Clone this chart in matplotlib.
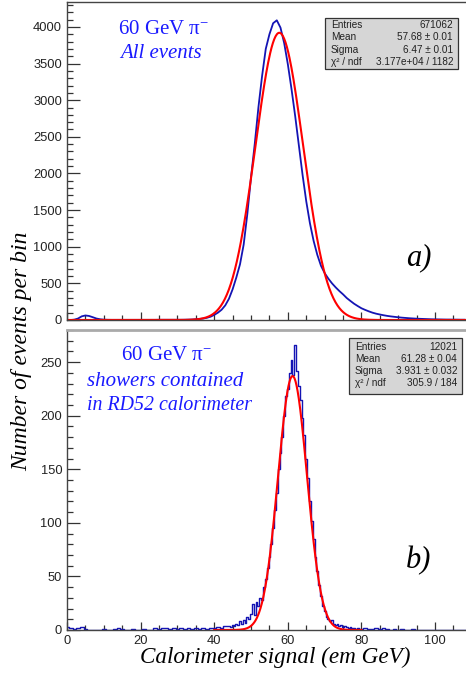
import numpy as np
import matplotlib
matplotlib.use("Agg")
import matplotlib.pyplot as plt
from matplotlib.patches import Rectangle
from matplotlib.ticker import MultipleLocator

plt.rcParams['font.family'] = ['Liberation Sans', 'DejaVu Sans']
plt.rcParams['mathtext.fontset'] = 'stix'

# ---- panel a): all events, 1 GeV sampling of the histogram ----
top_x = np.arange(0, 109)
top_counts = [
    0, 0, 5, 20, 50, 62, 55, 38, 20, 10,
    5, 3, 2, 2, 2, 2, 2, 2, 2, 2,
    2, 2, 2, 2, 2, 3, 3, 3, 3, 3,
    3, 3, 4, 5, 7, 10, 14, 20, 30, 45,
    70, 100, 140, 200, 290, 420, 580, 760, 1030, 1450,
    1950, 2400, 2900, 3330, 3700, 3900, 4050, 4090, 3990, 3780,
    3490, 3150, 2780, 2380, 1980, 1620, 1320, 1080, 890, 740,
    640, 565, 500, 445, 395, 350, 300, 260, 222, 190,
    160, 138, 118, 100, 86, 75, 65, 56, 49, 43,
    37, 32, 28, 24, 21, 18, 16, 14, 12, 10,
    9, 8, 7, 6, 6, 5, 5, 4, 4,
]
top_fit = dict(amp=3920, mean=57.68, sigma=6.47, lo=0.0, hi=108.4)
top_stats = [("Entries", "671062"), ("Mean", "57.68 ± 0.01"),
             ("Sigma", "6.47 ± 0.01"), ("χ² / ndf", "3.177e+04 / 1182")]

# ---- panel b): contained showers ----
bot_x = list(range(0, 44)) + list(np.arange(44, 80, 0.5)) + list(range(80, 109))
bot_counts = (
    [3, 2, 1, 2, 3, 1, 0, 0, 0, 0,
     1, 0, 0, 1, 2, 1, 0, 0, 1, 0,
     0, 1, 0, 0, 2, 1, 2, 2, 1, 2,
     1, 2, 1, 2, 1, 2, 1, 2, 1, 2,
     2, 3, 2, 4]
    + [4, 3, 5, 4, 6, 5, 8, 6, 9, 7,
       12, 10, 15, 24, 14, 26, 22, 30, 28, 40,
       48, 58, 68, 80, 95, 112, 128, 150, 165, 180,
       200, 218, 225, 240, 252, 238, 266, 242, 228, 215,
       198, 182, 160, 142, 120, 102, 85, 68, 55, 42,
       32, 22, 18, 12, 10, 8, 9, 6, 5, 6,
       4, 5, 3, 4, 3, 2, 3, 2, 2, 1,
       2, 1]
    + [1, 2, 1, 1, 2, 1, 2, 1, 0, 1,
       0, 1, 0, 0, 1, 0, 0, 0, 0, 0,
       0, 0, 0, 0, 0, 0, 0, 0, 0]
)
bot_fit = dict(amp=237, mean=61.28, sigma=3.931, lo=40.0, hi=80.0)
bot_stats = [("Entries", "12021"), ("Mean", "61.28 ± 0.04"),
             ("Sigma", "3.931 ± 0.032"), ("χ² / ndf", "305.9 / 184")]

W, H = 466, 674
fig = plt.figure(figsize=(W / 100, H / 100), dpi=100)


def fpos(x, y):
    return x / W, 1 - y / H


hist_col = '#1414b4'
text_col = '#1a1aff'
serif = ['Liberation Serif', 'DejaVu Serif']


def setup(ax, ymax, ymaj, ymin, labels_x):
    ax.set_xlim(0, 108.4)
    ax.set_ylim(0, ymax)
    ax.xaxis.set_major_locator(MultipleLocator(20))
    ax.xaxis.set_minor_locator(MultipleLocator(5))
    ax.yaxis.set_major_locator(MultipleLocator(ymaj))
    ax.yaxis.set_minor_locator(MultipleLocator(ymin))
    ax.tick_params(axis='both', which='both', direction='in', colors='#333333',
                   labelsize=9.3, labelcolor='#222222')
    ax.tick_params(axis='y', which='major', length=9, width=0.9)
    ax.tick_params(axis='y', which='minor', length=4.5, width=0.9)
    ax.tick_params(axis='x', which='major', length=6, width=0.9)
    ax.tick_params(axis='x', which='minor', length=3.5, width=0.9)
    if not labels_x:
        ax.tick_params(axis='x', labelbottom=False)
    for s in ax.spines.values():
        s.set_color('#444444')
        s.set_linewidth(1.0)
    ax.spines['right'].set_visible(False)


def fit_curve(p):
    xs = np.linspace(p['lo'], p['hi'], 600)
    return xs, p['amp'] * np.exp(-0.5 * ((xs - p['mean']) / p['sigma']) ** 2)


def stats_box(x0, y0, x1, y1, rows, ys, xl, xr):
    fx, fy = fpos(x0, y1)
    fw, fh = (x1 - x0) / W, (y1 - y0) / H
    fig.patches.append(Rectangle((fx, fy), fw, fh, transform=fig.transFigure,
                                 facecolor='#d6d6d6', edgecolor='#333333',
                                 linewidth=0.9, zorder=5))
    for (name, val), yy in zip(rows, ys):
        fig.text(*fpos(xl, yy), name, ha='left', va='center', fontsize=7.2,
                 color='#222222', zorder=6)
        fig.text(*fpos(xr, yy), val, ha='right', va='center', fontsize=7.2,
                 color='#222222', zorder=6)


# top panel
ax1 = fig.add_axes([67 / W, 1 - 320 / H, 1 - 67 / W, 318 / H])
setup(ax1, 4340, 500, 100, False)
ax1.plot(top_x, top_counts, color=hist_col, lw=1.3)
fx, fy = fit_curve(top_fit)
ax1.plot(fx, fy, color='#ff0000', lw=1.5)

# bottom panel
ax2 = fig.add_axes([67 / W, 1 - 630 / H, 1 - 67 / W, 300 / H])
setup(ax2, 280, 50, 10, True)
ax2.spines['top'].set_color('#aaaaaa')
ax2.spines['top'].set_linewidth(2.0)
ax2.step(bot_x, bot_counts, where='mid', color=hist_col, lw=1.0)
fx, fy = fit_curve(bot_fit)
ax2.plot(fx, fy, color='#ff0000', lw=1.5)

# annotations
fig.text(*fpos(163, 29), r'60 GeV $\mathregular{\pi^{-}}$', ha='center', va='center',
         fontsize=15, color=text_col, family=serif)
fig.text(*fpos(120, 53), 'All events', ha='left', va='center',
         fontsize=15, color=text_col, family=serif, style='italic')
fig.text(*fpos(166, 355), r'60 GeV $\mathregular{\pi^{-}}$', ha='center', va='center',
         fontsize=15, color=text_col, family=serif)
fig.text(*fpos(87, 382), 'showers contained', ha='left', va='center',
         fontsize=15, color=text_col, family=serif, style='italic')
fig.text(*fpos(87, 405), 'in RD52 calorimeter', ha='left', va='center',
         fontsize=14.3, color=text_col, family=serif, style='italic')
fig.text(*fpos(419, 258), 'a)', ha='center', va='center', fontsize=22,
         color='black', family=serif, style='italic')
fig.text(*fpos(419, 561), 'b)', ha='center', va='center', fontsize=22,
         color='black', family=serif, style='italic')

stats_box(325, 18, 458, 69, top_stats, [25, 37.5, 50, 62], 331, 453)
stats_box(349, 338, 462, 394, bot_stats, [347, 359, 371, 383], 355, 457)

fig.text(*fpos(275, 657), 'Calorimeter signal (em GeV)', ha='center', va='center',
         fontsize=16.7, family=serif, style='italic', color='black')
fig.text(*fpos(22, 351), 'Number of events per bin', ha='center', va='center',
         rotation=90, fontsize=17, family=serif, style='italic', color='black')

fig.savefig('out.png', dpi=100)
